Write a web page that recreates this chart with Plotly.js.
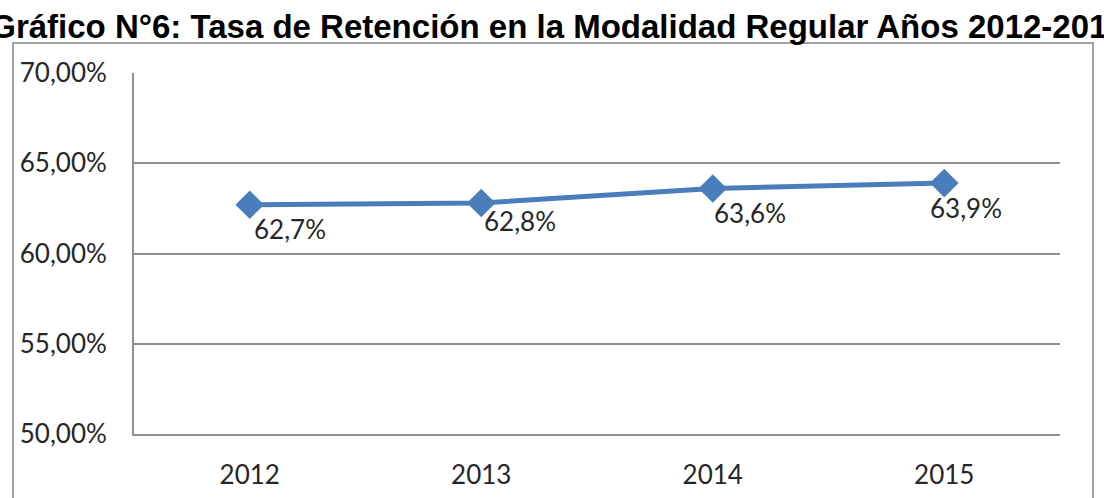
<!DOCTYPE html>
<html>
<head>
<meta charset="utf-8">
<script src="https://cdn.plot.ly/plotly-3.0.1.min.js"></script>
<style>
  html, body { margin: 0; padding: 0; background: #ffffff; }
  #chart { width: 1104px; height: 498px; }
</style>
</head>
<body>
<div id="chart"></div>
<script>
// Retention rate, regular modality, by year
const years = ['2012', '2013', '2014', '2015'];
const retention = [62.7, 62.8, 63.6, 63.9];
const yTicks = [50, 55, 60, 65, 70];

// label offsets (px) for each point's value label
const labelDx = [40, 39, 37, 22];
const labelDy = [-24, -18, -24, -25];

const PCT = '\u0025';
const lineColor = '#4a7ebb';
const gridColor = '#8f8f8f';
const textFont = { family: 'Lato, "Open Sans", sans-serif', size: 26, color: '#262626' };

// percentage with comma decimal separator
const fmtPct = (v, d) => v.toFixed(d).replace('.', ',') + PCT;

const trace = {
  x: years,
  y: retention,
  type: 'scatter',
  mode: 'lines+markers',
  line: { color: lineColor, width: 5 },
  marker: { symbol: 'diamond', size: 22, color: lineColor },
  hoverinfo: 'skip',
  showlegend: false
};

const annotations = years.map((yr, i) => ({
  x: i,
  y: retention[i],
  xref: 'x',
  yref: 'y',
  text: fmtPct(retention[i], 1),
  showarrow: false,
  xanchor: 'center',
  yanchor: 'middle',
  xshift: labelDx[i],
  yshift: labelDy[i],
  font: textFont
}));

const layout = {
  width: 1104,
  height: 498,
  margin: { l: 134, r: 44, t: 73, b: 64 },
  paper_bgcolor: '#ffffff',
  plot_bgcolor: '#ffffff',
  title: {
    text: 'Gráfico N°6: Tasa de Retención en la Modalidad Regular Años 2012-2015',
    font: { family: '"Liberation Sans", Arial, sans-serif', size: 33, color: '#000000', weight: 'bold' },
    x: 558 / 1104,
    xref: 'container',
    xanchor: 'center',
    y: 1 - 26 / 498,
    yref: 'container',
    yanchor: 'middle'
  },
  xaxis: {
    type: 'category',
    range: [-0.5, 3.5],
    showgrid: false,
    zeroline: false,
    showline: true,
    linecolor: gridColor,
    linewidth: 2,
    ticks: '',
    ticklabelstandoff: 17,
    tickfont: textFont,
    fixedrange: true
  },
  yaxis: {
    range: [50, 70],
    tickmode: 'array',
    tickvals: yTicks,
    ticktext: yTicks.map(v => fmtPct(v, 2)),
    showgrid: true,
    gridcolor: gridColor,
    gridwidth: 2,
    zeroline: false,
    showline: true,
    linecolor: gridColor,
    linewidth: 2,
    ticks: '',
    ticklabelstandoff: 20,
    tickfont: textFont,
    fixedrange: true
  },
  annotations: annotations,
  shapes: [{
    type: 'rect',
    xref: 'paper',
    yref: 'paper',
    x0: (13 - 134) / 926,
    x1: (1093 - 134) / 926,
    y0: (434 - 510) / 361,
    y1: (434 - 43) / 361,
    line: { color: '#a3a3a3', width: 2 },
    fillcolor: 'rgba(0,0,0,0)',
    layer: 'below'
  }]
};

Plotly.newPlot('chart', [trace], layout, { displayModeBar: false, staticPlot: true });
</script>
</body>
</html>
